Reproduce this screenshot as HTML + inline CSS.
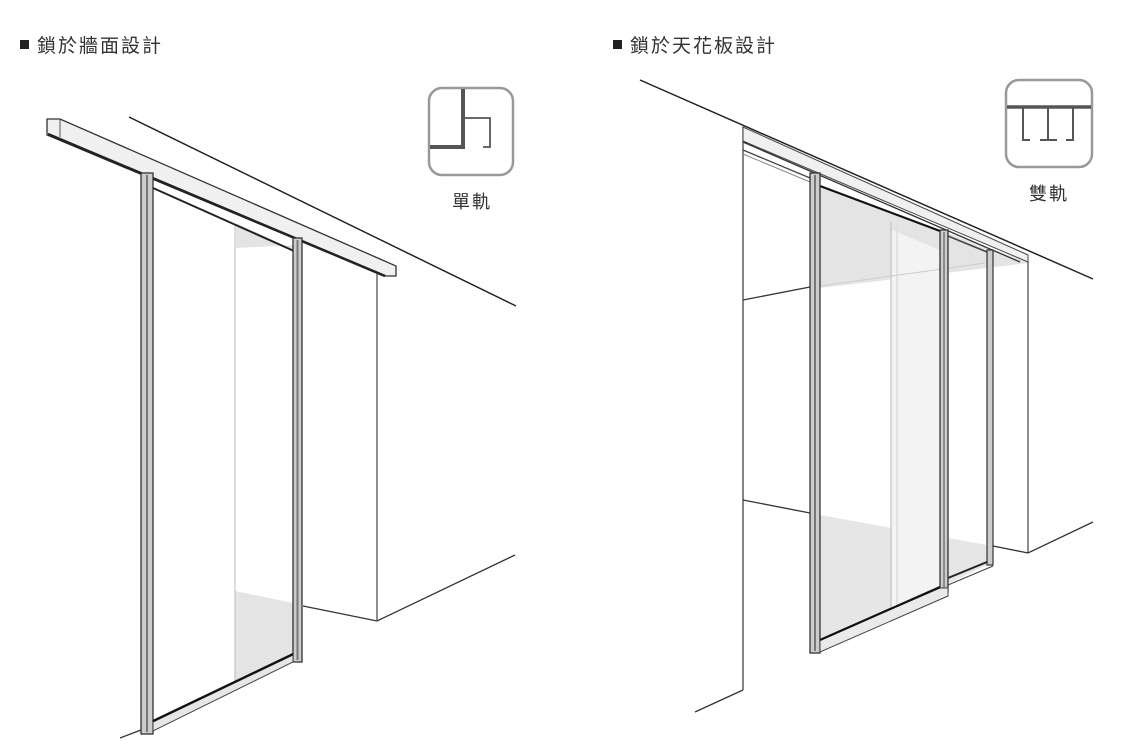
<!DOCTYPE html>
<html><head><meta charset="utf-8"><style>
html,body{margin:0;padding:0;background:#fff;}
svg{display:block;}
text{font-family:"Liberation Sans","Noto Sans CJK TC",sans-serif;fill:#333;}
</style></head><body>
<svg width="1124" height="752" viewBox="0 0 1124 752" xmlns="http://www.w3.org/2000/svg">
<!-- headers -->
<rect x="20" y="40" width="9" height="9" fill="#222"/>
<text x="37" y="52" font-size="19" letter-spacing="2">鎖於牆面設計</text>
<rect x="613" y="40" width="9" height="9" fill="#222"/>
<text x="630" y="52" font-size="19" letter-spacing="2">鎖於天花板設計</text>

<!-- LEFT DRAWING -->
<line x1="129" y1="117" x2="516" y2="306" stroke="#222" stroke-width="1.5"/>
<polygon points="236,223 294,250 294,245 236,248" fill="#e4e4e4"/>
<polygon points="235,591 293,603 293,657 235,682" fill="#e4e4e4"/>
<line x1="235" y1="225" x2="235" y2="682" stroke="#bbb" stroke-width="1"/>
<line x1="377" y1="273" x2="377" y2="620" stroke="#444" stroke-width="1.2"/>
<polyline points="303,606 377,621 515,555" fill="none" stroke="#333" stroke-width="1.3"/>
<line x1="120" y1="738" x2="141" y2="730" stroke="#333" stroke-width="1.3"/>
<polygon points="47,119 60,119 396,266 396,276 384,276 47,135" fill="#f0f0f0" stroke="#333" stroke-width="1.3"/>
<line x1="60" y1="119" x2="60" y2="137" stroke="#555" stroke-width="1"/>
<line x1="48" y1="134" x2="385" y2="276" stroke="#222" stroke-width="2.5"/>
<line x1="153" y1="188" x2="294" y2="251" stroke="#222" stroke-width="2"/>
<rect x="141" y="173" width="12" height="561" fill="#ccc" stroke="#333" stroke-width="1.3"/>
<line x1="147" y1="175" x2="147" y2="732" stroke="#777" stroke-width="2"/>
<rect x="293" y="238" width="9" height="424" fill="#ccc" stroke="#333" stroke-width="1.3"/>
<line x1="297.5" y1="240" x2="297.5" y2="660" stroke="#777" stroke-width="2"/>
<polygon points="153,722 293,655 293,662 153,731" fill="#e6e6e6" stroke="#444" stroke-width="1"/>
<line x1="153" y1="721" x2="293" y2="654" stroke="#111" stroke-width="2.2"/>
<rect x="429" y="88" width="84" height="87" rx="13" fill="#fff" stroke="#999" stroke-width="2.5"/>
<line x1="463" y1="89" x2="463" y2="148" stroke="#555" stroke-width="4"/>
<line x1="430" y1="147" x2="465" y2="147" stroke="#555" stroke-width="4"/>
<polyline points="465,118 490,118 490,147 483,147" fill="none" stroke="#555" stroke-width="1.8"/>
<text x="472" y="208" font-size="18" letter-spacing="2" text-anchor="middle" fill="#555">單軌</text>

<!-- RIGHT DRAWING -->
<line x1="640" y1="80" x2="1093" y2="279" stroke="#222" stroke-width="1.5"/>
<polygon points="820,187 1028,262 1028,263 820,288" fill="#e4e4e4"/>
<polygon points="820,515 987,545 987,565 820,645" fill="#e6e6e6"/>
<polygon points="892,230 940,250 940,590 892,612" fill="#f3f3f3"/>
<line x1="891" y1="222" x2="891" y2="612" stroke="#ccc" stroke-width="1.5"/>
<line x1="897" y1="224" x2="897" y2="610" stroke="#ddd" stroke-width="1.5"/>
<line x1="743" y1="300" x2="810" y2="287" stroke="#333" stroke-width="1.3"/>
<line x1="820" y1="286" x2="985" y2="263" stroke="#ccc" stroke-width="1"/>
<line x1="743" y1="127" x2="743" y2="690" stroke="#444" stroke-width="1.3"/>
<line x1="743" y1="690" x2="695" y2="712" stroke="#333" stroke-width="1.3"/>
<line x1="743" y1="500" x2="810" y2="513" stroke="#333" stroke-width="1.3"/>
<line x1="1028" y1="262" x2="1028" y2="553" stroke="#444" stroke-width="1.2"/>
<polyline points="993,546 1028,553 1093,522" fill="none" stroke="#333" stroke-width="1.3"/>
<polygon points="743,127 1028,255 1028,262 743,141" fill="#f0f0f0" stroke="#444" stroke-width="1"/>
<line x1="743" y1="142" x2="1020" y2="262" stroke="#333" stroke-width="1.3"/>
<line x1="743" y1="150" x2="810" y2="178" stroke="#444" stroke-width="1.3"/>
<line x1="743" y1="154" x2="810" y2="182" stroke="#888" stroke-width="1"/>
<rect x="987" y="250" width="6" height="315" fill="#ccc" stroke="#333" stroke-width="1.2"/>
<line x1="948" y1="578" x2="987" y2="562" stroke="#222" stroke-width="2"/>
<line x1="948" y1="585" x2="993" y2="566" stroke="#444" stroke-width="1"/>
<line x1="948" y1="236" x2="987" y2="252" stroke="#444" stroke-width="1.5"/>
<line x1="820" y1="186" x2="940" y2="231" stroke="#111" stroke-width="2.2"/>
<rect x="810" y="173" width="10" height="480" fill="#ccc" stroke="#333" stroke-width="1.3"/>
<line x1="815" y1="175" x2="815" y2="651" stroke="#777" stroke-width="2"/>
<rect x="940" y="230" width="8" height="362" fill="#ccc" stroke="#333" stroke-width="1.3"/>
<line x1="944" y1="232" x2="944" y2="590" stroke="#777" stroke-width="1.5"/>
<polygon points="820,640 940,588 948,588 948,596 820,652" fill="#eaeaea" stroke="#444" stroke-width="1"/>
<line x1="820" y1="640" x2="940" y2="587" stroke="#111" stroke-width="2.2"/>
<rect x="1006" y="80" width="86" height="87" rx="13" fill="#fff" stroke="#999" stroke-width="2.5"/>
<line x1="1007" y1="107" x2="1091" y2="107" stroke="#555" stroke-width="3.5"/>
<polyline points="1023,107 1023,140 1030,140" fill="none" stroke="#555" stroke-width="2"/>
<line x1="1048" y1="107" x2="1048" y2="140" stroke="#555" stroke-width="2"/>
<line x1="1040" y1="140" x2="1057" y2="140" stroke="#555" stroke-width="2"/>
<polyline points="1073,107 1073,140 1066,140" fill="none" stroke="#555" stroke-width="2"/>
<text x="1049" y="200" font-size="18" letter-spacing="2" text-anchor="middle" fill="#555">雙軌</text>
</svg>
</body></html>
